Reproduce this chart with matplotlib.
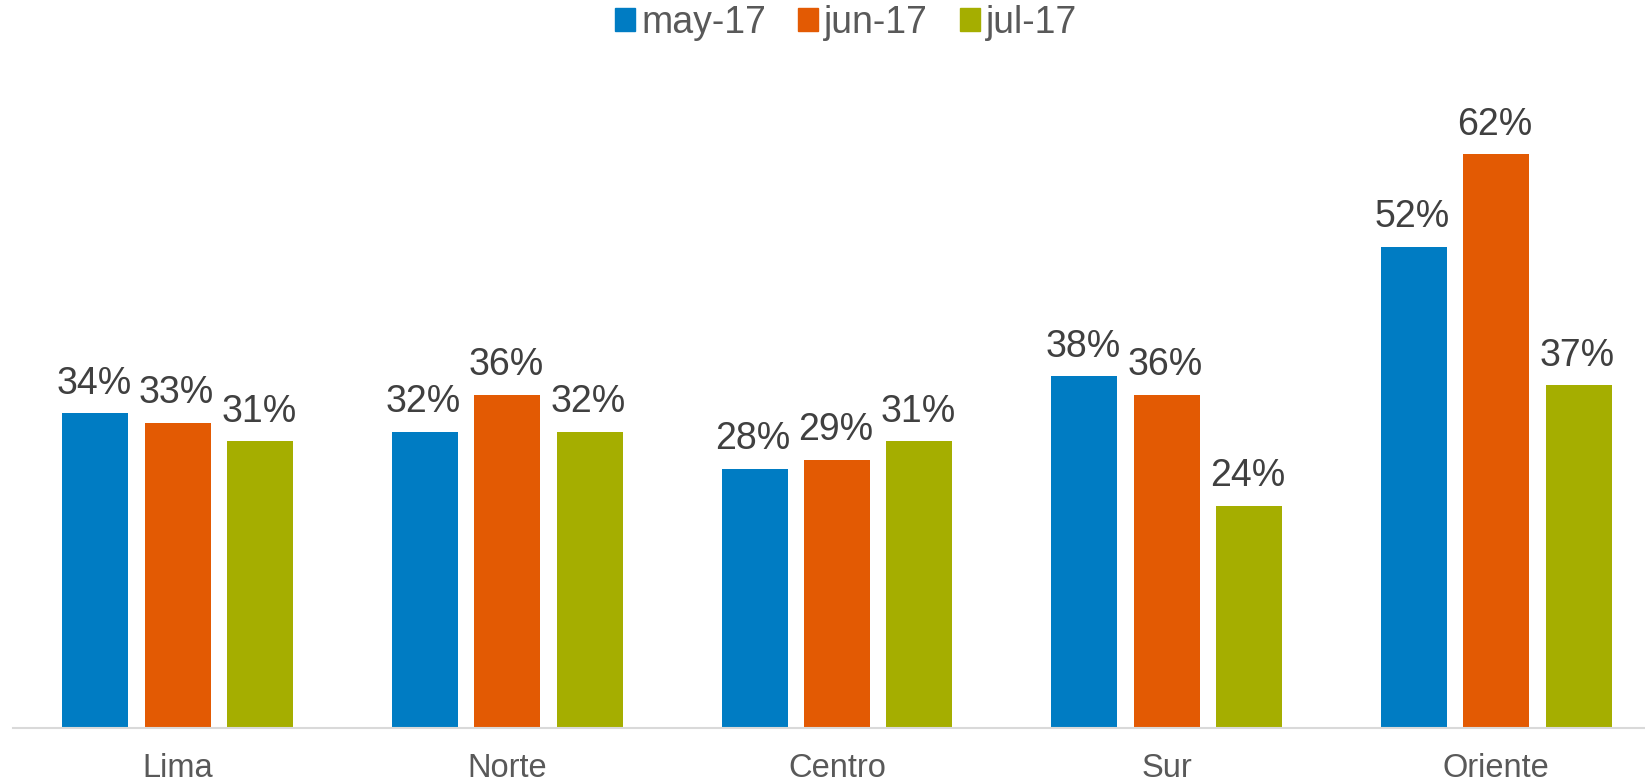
import numpy as np
import matplotlib
matplotlib.use("Agg")
import matplotlib.pyplot as plt
from matplotlib.patches import Patch

# ── Data ───────────────────────────────────────────────────────────────────────
regions = ["Lima", "Norte", "Centro", "Sur", "Oriente"]
series  = ["may-17", "jun-17", "jul-17"]
may_17  = [0.34, 0.32, 0.28, 0.38, 0.52]
jun_17  = [0.33, 0.36, 0.29, 0.36, 0.62]
jul_17  = [0.31, 0.32, 0.31, 0.24, 0.37]

colors = ["#007CC3", "#E35A03", "#A5AE00"]

plt.rcParams["font.family"] = ["Liberation Sans", "DejaVu Sans"]

fig = plt.figure(figsize=(16.45, 7.81), dpi=100)
ax = fig.add_axes([13 / 1645, 1 - 728 / 781, 1648 / 1645, 648 / 781])

x = np.arange(len(regions))
step, width = 0.25, 0.2
for i, (vals, c) in enumerate(zip([may_17, jun_17, jul_17], colors)):
    pos = x + (i - 1) * step
    ax.bar(pos, vals, width=width, color=c, zorder=2)
    for px, v in zip(pos, vals):
        ax.annotate(f"{v * 100:.0f}%", (px, v), xytext=(-1, 14), textcoords="offset points",
                    ha="center", va="baseline", fontsize=27, color="#404040")

ax.set_xlim(-0.5, 4.5)
ax.set_ylim(0, 0.70)
ax.set_xticks(x)
ax.set_xticklabels(regions, fontsize=23.5, color="#595959")
ax.tick_params(axis="x", length=0, pad=18)
ax.set_yticks([])
for s in ["top", "right", "left"]:
    ax.spines[s].set_visible(False)
ax.spines["bottom"].set_color("#D9D9D9")
ax.spines["bottom"].set_linewidth(1.5)

handles = [Patch(color=c, label=s) for c, s in zip(colors, series)]
fig.legend(handles=handles, loc="center", bbox_to_anchor=(846 / 1645, 1 - 23 / 781),
           ncol=3, frameon=False, fontsize=27, labelcolor="#595959",
           handlelength=0.55, handleheight=0.55, handletextpad=0.15, columnspacing=0.85)

fig.savefig("out.png", dpi=100)
